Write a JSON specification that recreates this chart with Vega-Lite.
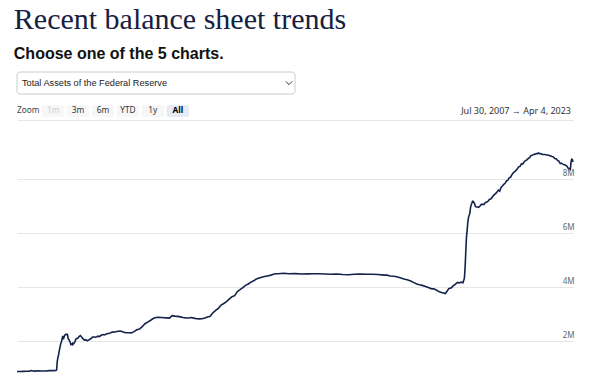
{
  "$schema": "https://vega.github.io/schema/vega-lite/v6.json",
  "background": "white",
  "padding": {"left": 13, "top": 5, "right": 0, "bottom": 0},
  "config": {"view": {"stroke": null}, "font": "Noto Sans"},
  "title": {
    "text": "Recent balance sheet trends",
    "subtitle": "Choose one of the 5 charts.",
    "anchor": "start",
    "font": "Liberation Serif",
    "fontSize": 30,
    "fontWeight": "normal",
    "color": "#15213f",
    "subtitleFont": "Liberation Sans",
    "subtitleFontSize": 16,
    "subtitleFontWeight": "bold",
    "subtitleColor": "#111111",
    "subtitlePadding": 10.5,
    "offset": 10
  },
  "datasets": {
    "menu": [
      {"part": "label", "text": "Total Assets of the Federal Reserve"},
      {"part": "arrow", "text": ""}
    ],
    "buttons": [
      {"button": "Zoom", "state": "label"},
      {"button": "1m", "state": "disabled"},
      {"button": "3m", "state": "normal"},
      {"button": "6m", "state": "normal"},
      {"button": "YTD", "state": "normal"},
      {"button": "1y", "state": "normal"},
      {"button": "All", "state": "selected"}
    ],
    "range": [{"text": "Jul 30, 2007  →  Apr 4, 2023"}],
    "assets": [
      {"date": "2007-07-30", "value": 869000},
      {"date": "2007-08-15", "value": 872000},
      {"date": "2007-09-05", "value": 868000},
      {"date": "2007-10-03", "value": 876000},
      {"date": "2007-11-07", "value": 880000},
      {"date": "2007-12-05", "value": 884000},
      {"date": "2007-12-26", "value": 905000},
      {"date": "2008-01-09", "value": 890000},
      {"date": "2008-02-06", "value": 884000},
      {"date": "2008-03-05", "value": 895000},
      {"date": "2008-04-02", "value": 888000},
      {"date": "2008-05-07", "value": 890000},
      {"date": "2008-06-04", "value": 893000},
      {"date": "2008-07-02", "value": 903000},
      {"date": "2008-08-06", "value": 903000},
      {"date": "2008-09-03", "value": 905000},
      {"date": "2008-09-10", "value": 928000},
      {"date": "2008-09-17", "value": 1256000},
      {"date": "2008-09-24", "value": 1397000},
      {"date": "2008-10-01", "value": 1497000},
      {"date": "2008-10-08", "value": 1651000},
      {"date": "2008-10-15", "value": 1774000},
      {"date": "2008-10-22", "value": 1894000},
      {"date": "2008-10-29", "value": 1965000},
      {"date": "2008-11-05", "value": 2071000},
      {"date": "2008-11-12", "value": 2185000},
      {"date": "2008-11-19", "value": 2062000},
      {"date": "2008-11-26", "value": 2154000},
      {"date": "2008-12-03", "value": 2204000},
      {"date": "2008-12-10", "value": 2243000},
      {"date": "2008-12-17", "value": 2256000},
      {"date": "2008-12-24", "value": 2236000},
      {"date": "2008-12-31", "value": 2240000},
      {"date": "2009-01-07", "value": 2085000},
      {"date": "2009-01-14", "value": 2059000},
      {"date": "2009-01-21", "value": 2002000},
      {"date": "2009-01-28", "value": 1955000},
      {"date": "2009-02-04", "value": 1871000},
      {"date": "2009-02-11", "value": 1890000},
      {"date": "2009-02-18", "value": 1862000},
      {"date": "2009-02-25", "value": 1921000},
      {"date": "2009-03-04", "value": 1897000},
      {"date": "2009-03-11", "value": 1930000},
      {"date": "2009-03-18", "value": 1979000},
      {"date": "2009-03-25", "value": 2051000},
      {"date": "2009-04-01", "value": 2088000},
      {"date": "2009-04-15", "value": 2101000},
      {"date": "2009-04-29", "value": 2160000},
      {"date": "2009-05-13", "value": 2200000},
      {"date": "2009-05-27", "value": 2142000},
      {"date": "2009-06-10", "value": 2080000},
      {"date": "2009-06-24", "value": 2034000},
      {"date": "2009-07-08", "value": 2049000},
      {"date": "2009-07-22", "value": 2007000},
      {"date": "2009-08-05", "value": 2032000},
      {"date": "2009-08-19", "value": 2065000},
      {"date": "2009-09-02", "value": 2097000},
      {"date": "2009-09-16", "value": 2148000},
      {"date": "2009-09-30", "value": 2147000},
      {"date": "2009-10-14", "value": 2138000},
      {"date": "2009-10-28", "value": 2156000},
      {"date": "2009-11-11", "value": 2180000},
      {"date": "2009-11-25", "value": 2161000},
      {"date": "2009-12-09", "value": 2203000},
      {"date": "2009-12-30", "value": 2237000},
      {"date": "2010-01-13", "value": 2222000},
      {"date": "2010-02-10", "value": 2271000},
      {"date": "2010-03-10", "value": 2284000},
      {"date": "2010-04-07", "value": 2330000},
      {"date": "2010-05-05", "value": 2335000},
      {"date": "2010-06-02", "value": 2362000},
      {"date": "2010-06-30", "value": 2368000},
      {"date": "2010-07-28", "value": 2335000},
      {"date": "2010-08-25", "value": 2304000},
      {"date": "2010-09-22", "value": 2303000},
      {"date": "2010-10-20", "value": 2299000},
      {"date": "2010-11-17", "value": 2348000},
      {"date": "2010-12-15", "value": 2415000},
      {"date": "2011-01-12", "value": 2440000},
      {"date": "2011-02-09", "value": 2530000},
      {"date": "2011-03-09", "value": 2640000},
      {"date": "2011-04-06", "value": 2700000},
      {"date": "2011-05-04", "value": 2760000},
      {"date": "2011-06-01", "value": 2830000},
      {"date": "2011-06-29", "value": 2870000},
      {"date": "2011-07-27", "value": 2876000},
      {"date": "2011-08-24", "value": 2870000},
      {"date": "2011-09-21", "value": 2862000},
      {"date": "2011-10-19", "value": 2855000},
      {"date": "2011-11-16", "value": 2848000},
      {"date": "2011-12-14", "value": 2940000},
      {"date": "2012-01-11", "value": 2921000},
      {"date": "2012-02-08", "value": 2912000},
      {"date": "2012-03-07", "value": 2894000},
      {"date": "2012-04-04", "value": 2869000},
      {"date": "2012-05-02", "value": 2855000},
      {"date": "2012-05-30", "value": 2853000},
      {"date": "2012-06-27", "value": 2871000},
      {"date": "2012-07-25", "value": 2846000},
      {"date": "2012-08-22", "value": 2826000},
      {"date": "2012-09-19", "value": 2820000},
      {"date": "2012-10-17", "value": 2823000},
      {"date": "2012-11-14", "value": 2855000},
      {"date": "2012-12-12", "value": 2890000},
      {"date": "2013-01-09", "value": 2919000},
      {"date": "2013-02-06", "value": 3045000},
      {"date": "2013-03-06", "value": 3130000},
      {"date": "2013-04-03", "value": 3210000},
      {"date": "2013-05-01", "value": 3330000},
      {"date": "2013-05-29", "value": 3390000},
      {"date": "2013-06-26", "value": 3460000},
      {"date": "2013-07-24", "value": 3550000},
      {"date": "2013-08-21", "value": 3640000},
      {"date": "2013-09-18", "value": 3680000},
      {"date": "2013-10-16", "value": 3830000},
      {"date": "2013-11-13", "value": 3900000},
      {"date": "2013-12-11", "value": 3980000},
      {"date": "2014-01-08", "value": 4060000},
      {"date": "2014-02-05", "value": 4110000},
      {"date": "2014-03-05", "value": 4180000},
      {"date": "2014-04-02", "value": 4230000},
      {"date": "2014-04-30", "value": 4300000},
      {"date": "2014-05-28", "value": 4330000},
      {"date": "2014-06-25", "value": 4360000},
      {"date": "2014-07-23", "value": 4390000},
      {"date": "2014-08-20", "value": 4410000},
      {"date": "2014-09-17", "value": 4430000},
      {"date": "2014-10-15", "value": 4460000},
      {"date": "2014-11-12", "value": 4490000},
      {"date": "2014-12-10", "value": 4490000},
      {"date": "2015-02-04", "value": 4510000},
      {"date": "2015-04-01", "value": 4490000},
      {"date": "2015-06-03", "value": 4495000},
      {"date": "2015-08-05", "value": 4480000},
      {"date": "2015-10-07", "value": 4485000},
      {"date": "2015-12-02", "value": 4490000},
      {"date": "2016-02-03", "value": 4490000},
      {"date": "2016-04-06", "value": 4480000},
      {"date": "2016-06-01", "value": 4470000},
      {"date": "2016-08-03", "value": 4480000},
      {"date": "2016-10-05", "value": 4460000},
      {"date": "2016-12-07", "value": 4455000},
      {"date": "2017-02-01", "value": 4470000},
      {"date": "2017-04-05", "value": 4480000},
      {"date": "2017-06-07", "value": 4470000},
      {"date": "2017-08-02", "value": 4470000},
      {"date": "2017-10-04", "value": 4460000},
      {"date": "2017-12-06", "value": 4440000},
      {"date": "2018-01-03", "value": 4440000},
      {"date": "2018-02-07", "value": 4410000},
      {"date": "2018-03-07", "value": 4400000},
      {"date": "2018-04-04", "value": 4390000},
      {"date": "2018-05-02", "value": 4360000},
      {"date": "2018-06-06", "value": 4320000},
      {"date": "2018-07-04", "value": 4290000},
      {"date": "2018-08-01", "value": 4270000},
      {"date": "2018-09-05", "value": 4220000},
      {"date": "2018-10-03", "value": 4170000},
      {"date": "2018-11-07", "value": 4110000},
      {"date": "2018-12-05", "value": 4080000},
      {"date": "2019-01-02", "value": 4060000},
      {"date": "2019-02-06", "value": 4020000},
      {"date": "2019-03-06", "value": 3980000},
      {"date": "2019-04-03", "value": 3940000},
      {"date": "2019-05-01", "value": 3930000},
      {"date": "2019-06-05", "value": 3870000},
      {"date": "2019-07-03", "value": 3810000},
      {"date": "2019-08-07", "value": 3780000},
      {"date": "2019-08-28", "value": 3760000},
      {"date": "2019-09-18", "value": 3860000},
      {"date": "2019-10-02", "value": 3940000},
      {"date": "2019-10-30", "value": 3970000},
      {"date": "2019-11-13", "value": 4030000},
      {"date": "2019-12-04", "value": 4090000},
      {"date": "2019-12-31", "value": 4170000},
      {"date": "2020-01-15", "value": 4150000},
      {"date": "2020-02-05", "value": 4180000},
      {"date": "2020-02-26", "value": 4160000},
      {"date": "2020-03-04", "value": 4240000},
      {"date": "2020-03-11", "value": 4310000},
      {"date": "2020-03-18", "value": 4670000},
      {"date": "2020-03-25", "value": 5250000},
      {"date": "2020-04-01", "value": 5810000},
      {"date": "2020-04-08", "value": 6080000},
      {"date": "2020-04-15", "value": 6370000},
      {"date": "2020-04-22", "value": 6570000},
      {"date": "2020-04-29", "value": 6650000},
      {"date": "2020-05-06", "value": 6720000},
      {"date": "2020-05-13", "value": 6930000},
      {"date": "2020-05-20", "value": 7040000},
      {"date": "2020-05-27", "value": 7100000},
      {"date": "2020-06-03", "value": 7170000},
      {"date": "2020-06-10", "value": 7170000},
      {"date": "2020-06-17", "value": 7130000},
      {"date": "2020-06-24", "value": 7090000},
      {"date": "2020-07-01", "value": 7000000},
      {"date": "2020-07-08", "value": 6970000},
      {"date": "2020-07-22", "value": 6960000},
      {"date": "2020-08-05", "value": 6950000},
      {"date": "2020-08-19", "value": 7000000},
      {"date": "2020-09-02", "value": 7060000},
      {"date": "2020-09-30", "value": 7060000},
      {"date": "2020-10-14", "value": 7130000},
      {"date": "2020-10-28", "value": 7150000},
      {"date": "2020-11-11", "value": 7180000},
      {"date": "2020-11-25", "value": 7250000},
      {"date": "2020-12-09", "value": 7260000},
      {"date": "2020-12-30", "value": 7360000},
      {"date": "2021-01-13", "value": 7420000},
      {"date": "2021-01-27", "value": 7460000},
      {"date": "2021-02-10", "value": 7520000},
      {"date": "2021-02-24", "value": 7590000},
      {"date": "2021-03-10", "value": 7550000},
      {"date": "2021-03-24", "value": 7690000},
      {"date": "2021-04-07", "value": 7740000},
      {"date": "2021-04-21", "value": 7800000},
      {"date": "2021-05-05", "value": 7840000},
      {"date": "2021-05-19", "value": 7930000},
      {"date": "2021-06-02", "value": 7960000},
      {"date": "2021-06-16", "value": 8040000},
      {"date": "2021-06-30", "value": 8070000},
      {"date": "2021-07-14", "value": 8160000},
      {"date": "2021-07-28", "value": 8230000},
      {"date": "2021-08-11", "value": 8270000},
      {"date": "2021-08-25", "value": 8320000},
      {"date": "2021-09-08", "value": 8380000},
      {"date": "2021-09-22", "value": 8450000},
      {"date": "2021-10-06", "value": 8470000},
      {"date": "2021-10-20", "value": 8560000},
      {"date": "2021-11-03", "value": 8560000},
      {"date": "2021-11-17", "value": 8640000},
      {"date": "2021-12-01", "value": 8680000},
      {"date": "2021-12-15", "value": 8710000},
      {"date": "2021-12-29", "value": 8760000},
      {"date": "2022-01-12", "value": 8790000},
      {"date": "2022-01-26", "value": 8870000},
      {"date": "2022-02-09", "value": 8880000},
      {"date": "2022-02-23", "value": 8910000},
      {"date": "2022-03-09", "value": 8920000},
      {"date": "2022-03-23", "value": 8940000},
      {"date": "2022-04-06", "value": 8940000},
      {"date": "2022-04-13", "value": 8965000},
      {"date": "2022-04-27", "value": 8940000},
      {"date": "2022-05-11", "value": 8930000},
      {"date": "2022-05-25", "value": 8910000},
      {"date": "2022-06-08", "value": 8910000},
      {"date": "2022-06-22", "value": 8910000},
      {"date": "2022-07-06", "value": 8890000},
      {"date": "2022-07-20", "value": 8890000},
      {"date": "2022-08-03", "value": 8870000},
      {"date": "2022-08-17", "value": 8850000},
      {"date": "2022-08-31", "value": 8830000},
      {"date": "2022-09-14", "value": 8820000},
      {"date": "2022-09-28", "value": 8760000},
      {"date": "2022-10-12", "value": 8750000},
      {"date": "2022-10-26", "value": 8690000},
      {"date": "2022-11-09", "value": 8660000},
      {"date": "2022-11-23", "value": 8580000},
      {"date": "2022-12-07", "value": 8580000},
      {"date": "2022-12-21", "value": 8550000},
      {"date": "2023-01-04", "value": 8530000},
      {"date": "2023-01-18", "value": 8510000},
      {"date": "2023-02-01", "value": 8470000},
      {"date": "2023-02-15", "value": 8390000},
      {"date": "2023-03-01", "value": 8390000},
      {"date": "2023-03-08", "value": 8360000},
      {"date": "2023-03-15", "value": 8640000},
      {"date": "2023-03-22", "value": 8730000},
      {"date": "2023-03-29", "value": 8710000},
      {"date": "2023-04-04", "value": 8630000}
    ]
  },
  "spacing": 3,
  "vconcat": [
    {
      "spacing": 10,
      "vconcat": [
        {
          "width": 285,
          "height": 22,
          "data": {"name": "menu"},
          "layer": [
            {
              "transform": [{"filter": "datum.part === 'label'"}],
              "mark": {"type": "rect", "fill": "white", "stroke": "#cccccc", "strokeWidth": 1, "cornerRadius": 3, "xOffset": -7, "x2Offset": -7},
              "encoding": {}
            },
            {
              "transform": [{"filter": "datum.part === 'label'"}],
              "mark": {"type": "text", "align": "left", "baseline": "middle", "dx": 5, "font": "Liberation Sans", "fontSize": 9.2, "color": "#222222"},
              "encoding": {
                "x": {"field": "part", "type": "nominal", "scale": {"type": "point", "domain": ["label", "arrow"], "padding": 0}, "axis": null},
                "text": {"field": "text"}
              }
            },
            {
              "transform": [{"filter": "datum.part === 'arrow'"}],
              "mark": {"type": "point", "shape": "M-1,-0.5L0,0.5L1,-0.5", "filled": false, "size": 42, "stroke": "#333333", "strokeWidth": 1, "opacity": 1, "xOffset": -13},
              "encoding": {
                "x": {"field": "part", "type": "nominal", "scale": {"type": "point", "domain": ["label", "arrow"], "padding": 0}, "axis": null}
              }
            }
          ]
        },
        {
          "width": 556,
          "height": 12,
          "layer": [
            {
              "data": {"name": "buttons"},
              "transform": [{"filter": "datum.state !== 'label'"}],
              "mark": {"type": "rect", "cornerRadius": 2},
              "encoding": {
                "x": {"field": "button", "type": "nominal", "sort": null, "scale": {"type": "band", "domain": ["Zoom", "1m", "3m", "6m", "YTD", "1y", "All"], "range": [0, 172], "paddingInner": 0.1, "paddingOuter": 0}, "axis": null},
                "fill": {"field": "state", "type": "nominal", "scale": {"domain": ["disabled", "normal", "selected"], "range": ["#f7f7f7", "#f7f7f7", "#e6ebf5"]}, "legend": null}
              }
            },
            {
              "data": {"name": "buttons"},
              "transform": [{"filter": "datum.state !== 'selected'"}],
              "mark": {"type": "text", "baseline": "middle", "fontSize": 8.3},
              "encoding": {
                "x": {"field": "button", "type": "nominal", "sort": null, "axis": null},
                "text": {"field": "button"},
                "color": {"field": "state", "type": "nominal", "scale": {"domain": ["label", "disabled", "normal", "selected"], "range": ["#444444", "#cccccc", "#333333", "#000000"]}, "legend": null}
              }
            },
            {
              "data": {"name": "buttons"},
              "transform": [{"filter": "datum.state === 'selected'"}],
              "mark": {"type": "text", "baseline": "middle", "fontSize": 8.3, "fontWeight": "bold"},
              "encoding": {
                "x": {"field": "button", "type": "nominal", "sort": null, "axis": null},
                "text": {"field": "button"},
                "color": {"field": "state", "type": "nominal", "legend": null}
              }
            },
            {
              "data": {"name": "range"},
              "mark": {"type": "text", "align": "right", "baseline": "middle", "fontSize": 9, "dx": -2, "color": "#333333"},
              "encoding": {
                "x": {"value": "width"},
                "text": {"field": "text"}
              }
            }
          ]
        }
      ]
    },
    {
      "width": 556,
      "height": 267,
      "data": {"name": "assets"},
      "mark": {"type": "line", "color": "#14234b", "strokeWidth": 1.6, "interpolate": "linear"},
      "encoding": {
        "x": {
          "field": "date",
          "type": "temporal",
          "scale": {"domain": [{"year": 2007, "month": 7, "date": 30}, {"year": 2023, "month": 4, "date": 4}], "nice": false},
          "axis": {"orient": "top", "labels": false, "ticks": false, "grid": false, "title": null, "domain": true, "domainColor": "#e6e6e6", "domainWidth": 1, "minExtent": 0}
        },
        "y": {
          "field": "value",
          "type": "quantitative",
          "scale": {"domain": [296000, 10185000], "nice": false, "zero": false},
          "axis": {"orient": "right", "values": [2000000, 4000000, 6000000, 8000000], "format": "~s", "grid": true, "gridColor": "#e6e6e6", "gridWidth": 1, "domain": false, "ticks": false, "labelAlign": "right", "labelBaseline": "alphabetic", "labelPadding": 1, "labelOffset": -3, "labelFontSize": 8, "labelColor": "#666666", "title": null, "minExtent": 0}
        }
      }
    }
  ]
}
